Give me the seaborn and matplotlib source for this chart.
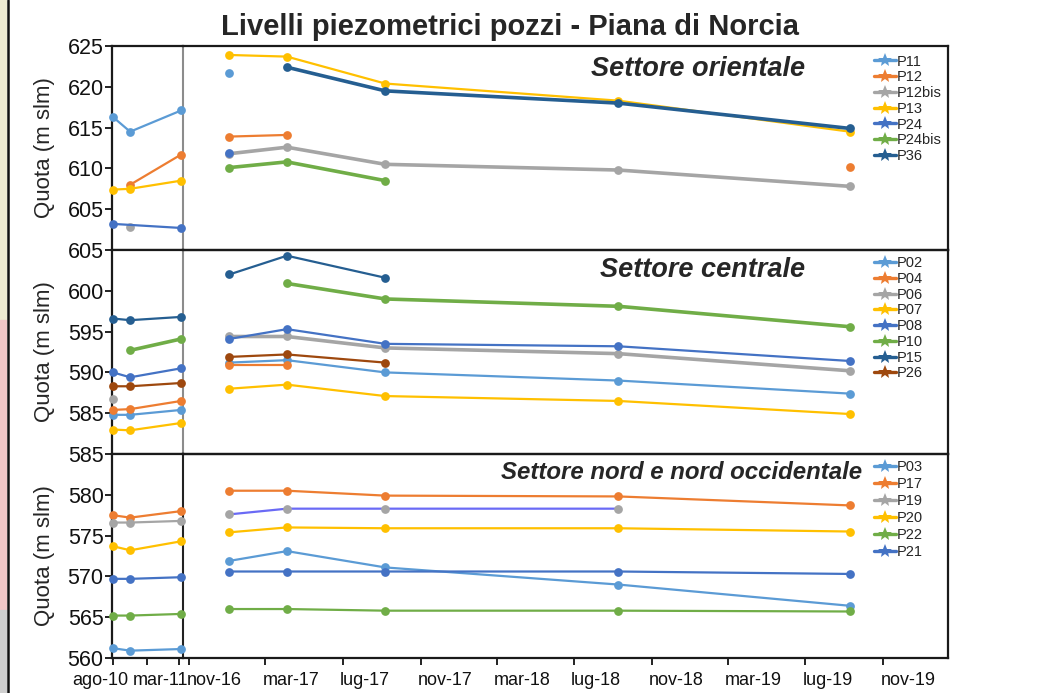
import numpy as np
import pandas as pd
import seaborn as sns
import matplotlib.pyplot as plt
import matplotlib.transforms as mtransforms
from matplotlib.patches import Rectangle
from matplotlib.lines import Line2D

nan = np.nan

# survey dates: 2010-11 campaign (left block) and post-earthquake campaign (right block)
dates_old = pd.to_datetime(["2010-08-01", "2010-09-25", "2011-03-07"])
dates_new = pd.to_datetime(["2017-01-03", "2017-04-04", "2017-09-06",
                            "2018-09-09", "2019-09-09"])

ticks_old = pd.to_datetime(["2010-08-01", "2010-11-18", "2011-03-01"])
ticklabels_old = ["ago-10", "", "mar-11"]
ticks_new = pd.to_datetime(["2016-11-01", "2017-03-01", "2017-07-01", "2017-11-01",
                            "2018-03-01", "2018-07-01", "2018-11-01", "2019-03-01",
                            "2019-07-01", "2019-11-01"])
ticklabels_new = ["nov-16", "mar-17", "lug-17", "nov-17", "mar-18",
                  "lug-18", "nov-18", "mar-19", "lug-19", "nov-19"]

# Settore orientale
old_or = {
    "P11": [616.3, 614.5, 617.1],
    "P12": [nan, 608.0, 611.7],
    "P12bis": [nan, 602.8, nan],
    "P13": [607.4, 607.5, 608.5],
    "P24": [603.2, nan, 602.7],
    "P24bis": [nan, nan, nan],
    "P36": [nan, nan, nan],
}
new_or = {
    "P11": [621.7, nan, nan, nan, nan],
    "P12": [613.9, 614.1, nan, nan, 610.2],
    "P12bis": [611.8, 612.6, 610.5, 609.8, 607.8],
    "P13": [623.9, 623.7, 620.4, 618.3, 614.5],
    "P24": [611.9, nan, nan, nan, nan],
    "P24bis": [610.1, 610.8, 608.5, nan, nan],
    "P36": [nan, 622.4, 619.5, 618.0, 614.9],
}

# Settore centrale
old_ce = {
    "P02": [584.8, 584.8, 585.4],
    "P04": [585.4, 585.5, 586.5],
    "P06": [586.7, nan, nan],
    "P07": [583.0, 582.9, 583.8],
    "P08": [590.0, 589.4, 590.5],
    "P10": [nan, 592.7, 594.1],
    "P15": [596.6, 596.4, 596.8],
    "P26": [588.3, 588.3, 588.7],
}
new_ce = {
    "P02": [591.2, 591.5, 590.0, 589.0, 587.4],
    "P04": [590.9, 590.9, nan, nan, nan],
    "P06": [594.4, 594.4, 593.0, 592.3, 590.2],
    "P07": [588.0, 588.5, 587.1, 586.5, 584.9],
    "P08": [594.1, 595.3, 593.5, 593.2, 591.4],
    "P10": [nan, 600.9, 599.0, 598.1, 595.6],
    "P15": [602.0, 604.3, 601.6, nan, nan],
    "P26": [591.9, 592.2, 591.2, nan, nan],
}

# Settore nord e nord occidentale
old_no = {
    "P03": [561.2, 560.9, 561.1],
    "P17": [577.5, 577.2, 578.0],
    "P19": [576.6, 576.6, 576.8],
    "P20": [573.7, 573.2, 574.3],
    "P22": [565.2, 565.2, 565.4],
    "P21": [569.7, 569.7, 569.9],
}
new_no = {
    "P03": [571.9, 573.1, 571.1, 569.0, 566.4],
    "P17": [580.5, 580.5, 579.9, 579.8, 578.7],
    "P19": [577.6, 578.3, 578.3, 578.3, nan],
    "P20": [575.4, 576.0, 575.9, 575.9, 575.5],
    "P22": [566.0, 566.0, 565.8, 565.8, 565.7],
    "P21": [570.6, 570.6, 570.6, 570.6, 570.3],
}

colors = {
    "P11": "#5B9BD5", "P12": "#ED7D31", "P12bis": "#A5A5A5", "P13": "#FFC000",
    "P24": "#4472C4", "P24bis": "#70AD47", "P36": "#255E91",
    "P02": "#5B9BD5", "P04": "#ED7D31", "P06": "#A5A5A5", "P07": "#FFC000",
    "P08": "#4472C4", "P10": "#70AD47", "P15": "#255E91", "P26": "#9E480E",
    "P03": "#5B9BD5", "P17": "#ED7D31", "P19": "#A5A5A5", "P20": "#FFC000",
    "P22": "#70AD47", "P21": "#4472C4",
}
thick = {"P36", "P12bis", "P24bis", "P10", "P06"}
line_override = {"P19": "#6A6AF5"}  # later P19 segment drawn with a blue line

panels = [
    ("Settore orientale", old_or, new_or, (600, 625), [605, 610, 615, 620, 625]),
    ("Settore centrale", old_ce, new_ce, (580, 605), [585, 590, 595, 600, 605]),
    ("Settore nord e nord occidentale", old_no, new_no, (560, 585),
     [560, 565, 570, 575, 580, 585]),
]
title_pos = [(0.813, 0.885, 19.5), (0.813, 0.902, 19.5), (0.888, 0.911, 17.3)]
legend_y = [0.958, 0.970, 0.970]
legend_gap = [0.12, 0.12, 0.2]

sns.set_style("ticks")
plt.rcParams["font.family"] = ["Liberation Sans", "DejaVu Sans"]

W, H = 1040, 693
fig = plt.figure(figsize=(W / 100, H / 100), dpi=100)
gs = fig.add_gridspec(3, 2, left=112 / W, right=948 / W, top=1 - 46 / H,
                      bottom=1 - 658 / H, width_ratios=[71, 765], hspace=0, wspace=0)


def draw(ax, dates, series, connect, recolor):
    for well, vals in series.items():
        df = pd.DataFrame({"data": dates, "quota": vals})
        df["seg"] = 0 if connect else df["quota"].isna().cumsum()
        df = df.dropna()
        lw = 2.6 if well in thick else 1.6
        c = colors[well]
        lc = line_override.get(well, c) if recolor else c
        for i, (_, part) in enumerate(df.groupby("seg")):
            sns.lineplot(data=part, x="data", y="quota", ax=ax, color=lc,
                         marker="o", markersize=6.3, markerfacecolor=c,
                         markeredgecolor=c, markeredgewidth=0, linewidth=lw,
                         label=well if i == 0 else "_nolegend_", clip_on=False,
                         zorder=3)


for r, (title, old, new, ylim, yticks) in enumerate(panels):
    axl = fig.add_subplot(gs[r, 0])
    axr = fig.add_subplot(gs[r, 1], sharey=axl)
    axr.patch.set_alpha(0)
    draw(axl, dates_old, old, True, False)
    draw(axr, dates_new, new, False, True)
    if axl.get_legend():
        axl.get_legend().remove()

    axl.set_xlim(pd.Timestamp("2010-07-29"), pd.Timestamp("2011-03-13"))
    axr.set_xlim(pd.Timestamp("2016-10-22"), pd.Timestamp("2020-02-11"))
    axl.set_ylim(*ylim)
    axl.set_yticks(yticks)
    axl.set_yticklabels([str(v) for v in yticks])
    axl.tick_params(axis="y", direction="out", length=5, width=1.3, pad=1,
                    labelsize=15.5, colors="#111111")
    axr.tick_params(axis="y", left=False, labelleft=False)
    axl.set_ylabel("Quota (m slm)", fontsize=16)
    axl.yaxis.set_label_coords(-0.80, 0.5)
    axr.set_ylabel("")
    axl.set_xlabel("")
    axr.set_xlabel("")

    for ax in (axl, axr):
        for s in ax.spines.values():
            s.set_color("#1A1A1A")
            s.set_linewidth(1.6)
    axr.spines["left"].set_visible(False)
    axl.spines["right"].set_color("#222222" if r == 2 else "#8C8C8C")
    axl.spines["right"].set_linewidth(1.5)

    if r < 2:
        for ax in (axl, axr):
            ax.tick_params(axis="x", bottom=False, labelbottom=False)
    else:
        axl.set_xticks(ticks_old)
        axl.set_xticklabels(ticklabels_old)
        axr.set_xticks(ticks_new)
        axr.set_xticklabels(ticklabels_new)
        for ax in (axl, axr):
            ax.tick_params(axis="x", direction="out", length=5, width=1.3, pad=5,
                           labelsize=13, colors="#111111")
        for lbl, dx in zip(axl.get_xticklabels(), [-13, 0, -19]):
            lbl.set_ha("center")
            lbl.set_transform(lbl.get_transform() +
                              mtransforms.ScaledTranslation(dx / 100, 0, fig.dpi_scale_trans))
        for lbl in axr.get_xticklabels():
            lbl.set_ha("left")
            lbl.set_transform(lbl.get_transform() +
                              mtransforms.ScaledTranslation(-3 / 100, 0, fig.dpi_scale_trans))

    tx, ty, fs = title_pos[r]
    axr.text(tx, ty, title, transform=axr.transAxes, ha="right", va="center",
             fontsize=fs, fontweight="bold", fontstyle="italic")

    handles, labels = axr.get_legend_handles_labels()
    leg = axr.legend(handles, labels, loc="upper left", bbox_to_anchor=(0.903, legend_y[r]),
                     frameon=False, fontsize=10.5, borderpad=0, borderaxespad=0,
                     handlelength=1.5, handletextpad=0.1, labelspacing=legend_gap[r])
    for ln, lab in zip(leg.get_lines(), labels):
        ln.set_color(colors[lab])
        ln.set_marker("*")
        ln.set_markersize(10)
        ln.set_markeredgewidth(0)
        ln.set_linewidth(2.4)

fig.text(510 / W, 1 - 27 / H, "Livelli piezometrici pozzi - Piana di Norcia",
         ha="center", va="center", fontsize=21, fontweight="bold")

# slide edge at the left border of the screenshot
fig.patches.append(Rectangle((0, 1 - 320 / H), 6 / W, 320 / H, transform=fig.transFigure,
                             color="#EEEBD2", zorder=0))
fig.patches.append(Rectangle((0, 1 - 610 / H), 6 / W, 290 / H, transform=fig.transFigure,
                             color="#F0C6C6", zorder=0))
fig.patches.append(Rectangle((0, 0), 6 / W, 83 / H, transform=fig.transFigure,
                             color="#CFCFCF", zorder=0))
fig.add_artist(Line2D([7.5 / W, 7.5 / W], [0, 1], transform=fig.transFigure,
                      color="#111111", linewidth=1.8))

fig.savefig("out.png", dpi=100)
